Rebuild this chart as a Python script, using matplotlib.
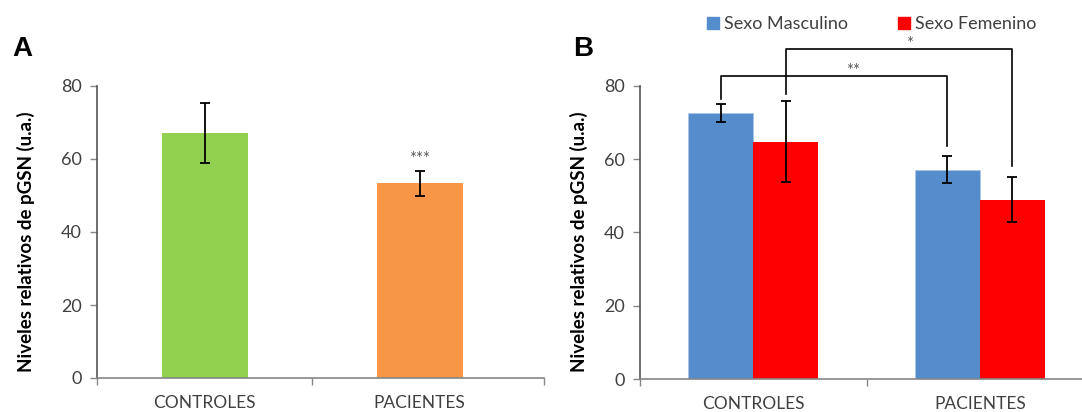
import matplotlib
matplotlib.use("Agg")
import matplotlib.pyplot as plt
from matplotlib.patches import Patch

plt.rcParams['font.family'] = ['Lato', 'DejaVu Sans']

# Datos
grupos = ['CONTROLES', 'PACIENTES']

# Panel A
niveles_a = [67.1, 53.3]
error_a = [8.3, 3.5]
colores_a = ['#92D050', '#F79646']

# Panel B
masculino = [72.5, 57.1]
masculino_err = [2.4, 3.7]
femenino = [64.7, 48.9]
femenino_err = [11.1, 6.2]

# Significancia panel B: (x0, x1, altura, tope izq., tope der., texto)
ancho_b = 0.287
sig_b = [
    (0 - ancho_b / 2, 1 - ancho_b / 2, 82.6, 76.5, 63.6, '**'),
    (0 + ancho_b / 2, 1 + ancho_b / 2, 90.1, 77.6, 58.2, '*'),
]

W, H = 1082, 412
fig = plt.figure(figsize=(W / 100, H / 100), dpi=100)

eje_color = '#868686'
texto_color = '#404040'
ylabel = 'Niveles relativos de pGSN (u.a.)'


def estilo(ax, xr):
    ax.set_ylim(0, 80)
    ax.set_xlim(-0.5, xr)
    ax.set_yticks([0, 20, 40, 60, 80])
    ax.set_xticks([0, 1])
    ax.set_xticklabels(grupos)
    ax.set_xticks([-0.5, 0.5, xr], minor=True)
    ax.tick_params(axis='x', which='major', length=0, pad=12, labelsize=12.5, labelcolor=texto_color)
    ax.tick_params(axis='x', which='minor', length=5, width=1, color=eje_color, direction='out')
    ax.tick_params(axis='y', length=5, width=1, color=eje_color, pad=6, labelsize=13, labelcolor=texto_color)
    for s in ['top', 'right']:
        ax.spines[s].set_visible(False)
    for s in ['left', 'bottom']:
        ax.spines[s].set_color(eje_color)
        ax.spines[s].set_linewidth(1.2)
    ax.spines['left'].set_color('#555555')


# ---- Panel A ----
xr_a = 1.579
axA = fig.add_axes([97 / W, (H - 378) / H, 447 / W, 292 / H])
axA.bar(range(len(grupos)), niveles_a, width=0.4, color=colores_a,
        yerr=error_a, capsize=3.5, error_kw=dict(elinewidth=1.3, capthick=1.3, ecolor='black'),
        zorder=2)
estilo(axA, xr_a)
axA.set_ylabel(ylabel, fontsize=13.5, fontweight='bold', color='black')
axA.yaxis.set_label_coords((35 - 97) / 447, 0.467)
axA.text(1, niveles_a[1] + error_a[1] + 3.2, '***', ha='center', va='center',
         fontsize=12, color='#595959')
fig.text(12 / W, 1 - 49 / H, 'A', fontsize=20, fontweight='bold', va='center', ha='left',
         family='Liberation Sans')

# ---- Panel B ----
axB = fig.add_axes([640 / W, (H - 379) / H, 453.3 / W, 293.3 / H])
x = range(len(grupos))
err_kw = dict(elinewidth=1.3, capthick=1.3, ecolor='black')
b1 = axB.bar([i - ancho_b / 2 for i in x], masculino, width=ancho_b, color='#558CCB',
             edgecolor='#A9C4E8', linewidth=0.6,
             yerr=masculino_err, capsize=3.5, error_kw=err_kw, zorder=2)
b2 = axB.bar([i + ancho_b / 2 for i in x], femenino, width=ancho_b, color='#FF0000',
             yerr=femenino_err, capsize=3.5, error_kw=err_kw, zorder=2)
estilo(axB, 1.5)
axB.set_ylabel(ylabel, fontsize=13.5, fontweight='bold', color='black')
axB.yaxis.set_label_coords((588 - 640) / 453.3, 0.467)

for x0, x1, y, y0, y1, txt in sig_b:
    axB.plot([x0, x0, x1, x1], [y0, y, y, y1], color='black', lw=1.2,
             clip_on=False, zorder=3)
    dx = 0.082 if txt == '**' else 0.044
    axB.text((x0 + x1) / 2 + dx, y + 1.3, txt,
             ha='center', va='center', fontsize=12, color='#595959', clip_on=False)

fig.text(573 / W, 1 - 49 / H, 'B', fontsize=20, fontweight='bold', va='center', ha='left',
         family='Liberation Sans')

handles = [Patch(color='#558CCB'), Patch(color='#FF0000')]
fig.legend(handles, ['Sexo Masculino', 'Sexo Femenino'], ncol=2, frameon=False,
           loc='center left', bbox_to_anchor=(691 / W, 1 - 24 / H),
           fontsize=13, handlelength=0.65, handleheight=0.65, handletextpad=0.3,
           columnspacing=2.75, labelcolor=texto_color)

fig.savefig('out.png', dpi=100)
